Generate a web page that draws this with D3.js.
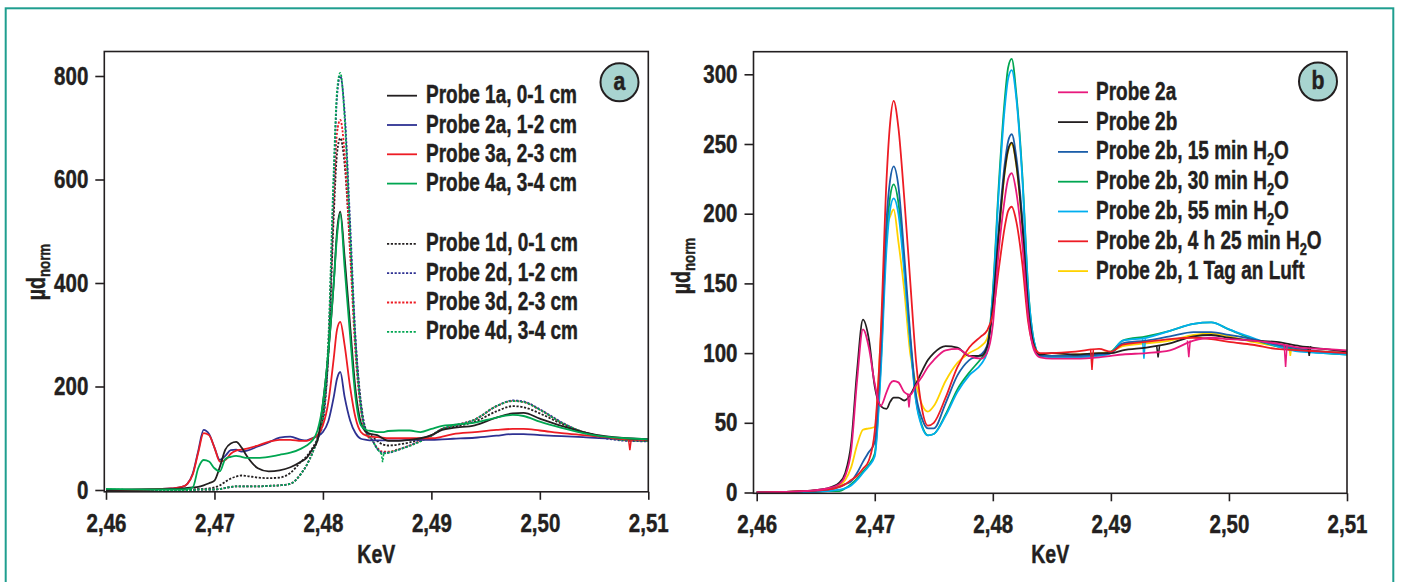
<!DOCTYPE html>
<html>
<head>
<meta charset="utf-8">
<script src="https://cdn.jsdelivr.net/npm/d3@7"></script>
<style>
  body { margin: 0; background: #fff; }
  svg { display: block; }
  text { font-family: 'Liberation Sans', Arial, Helvetica, sans-serif; font-weight: bold; fill: #231f20; stroke: #231f20; stroke-width: 0.45px; }
</style>
</head>
<body>
<svg id="chart" width="1401" height="582"></svg>
<script>
/** shared tick labels */
const xTickValues = [2.46, 2.47, 2.48, 2.49, 2.50, 2.51];
const xTickLabels = ['2,46', '2,47', '2,48', '2,49', '2,50', '2,51'];
const yTicksA = [0, 200, 400, 600, 800];
const yTicksB = [0, 50, 100, 150, 200, 250, 300];

/** panel a: energy grid (keV) and the read-off values */
const energyA = [2.4600, 2.4640, 2.4660, 2.4670, 2.4675, 2.4680, 2.4685, 2.4690, 2.4695, 2.4700,
                 2.4705, 2.4710, 2.4715, 2.4720, 2.4725, 2.4730, 2.4740, 2.4750, 2.4760, 2.4770,
                 2.4780, 2.4785, 2.4790, 2.4795, 2.4800, 2.4805, 2.4810, 2.4813, 2.4816, 2.4820,
                 2.4825, 2.4830, 2.4835, 2.4840, 2.4845, 2.4850, 2.4855, 2.4860, 2.4870, 2.4880,
                 2.4890, 2.4900, 2.4910, 2.4920, 2.4940, 2.4960, 2.4975, 2.4985, 2.5000, 2.5020,
                 2.5040, 2.5060, 2.5080, 2.5100];

const probe1a = [0, 1, 2, 3, 4, 5, 6, 9, 13, 18,
                 45, 78, 90, 93, 82, 65, 42, 36, 38, 44,
                 55, 62, 78, 95, 168, 265, 400, 500, 538, 450,
                 320, 195, 130, 112, 108, 106, 100, 95, 95, 97,
                 100, 106, 116, 120, 125, 140, 148, 149, 138, 124,
                 112, 104, 100, 98];
const probe2a = [0, 1, 3, 6, 12, 32, 75, 116, 108, 82,
                 58, 66, 77, 78, 74, 76, 84, 92, 101, 103,
                 97, 96, 100, 104, 112, 133, 180, 215, 228, 180,
                 135, 110, 99, 97, 96, 96, 96, 96, 96, 97,
                 97, 97, 98, 99, 101, 105, 108, 108, 106, 104,
                 102, 100, 99, 98];
const probe3a = [0, 1, 3, 6, 12, 30, 72, 110, 106, 82,
                 55, 58, 70, 76, 78, 80, 86, 93, 97, 97,
                 95, 95, 99, 106, 125, 170, 255, 310, 325, 280,
                 200, 140, 112, 105, 103, 102, 101, 100, 100, 100,
                 100, 100, 103, 108, 112, 116, 118, 118, 115, 110,
                 106, 102, 98, 97];
const probe4a = [2, 1, 1, 1, 2, 5, 42, 58, 55, 42,
                 36, 60, 64, 66, 64, 62, 62, 64, 68, 72,
                 80, 86, 95, 115, 168, 267, 400, 490, 534, 430,
                 300, 180, 125, 116, 114, 112, 112, 114, 115, 115,
                 112, 118, 124, 126, 130, 140, 145, 143, 132, 120,
                 110, 103, 100, 98];
const probe1d = [0, 0, 1, 1, 1, 1, 2, 2, 3, 5,
                 9, 16, 22, 26, 28, 27, 24, 23, 24, 33,
                 55, 65, 80, 100, 140, 260, 530, 650, 680, 630,
                 470, 290, 170, 115, 104, 95, 88, 86, 88, 92,
                 98, 106, 118, 122, 132, 152, 162, 160, 148, 128,
                 112, 103, 97, 95];
const probe2d = [0, 0, 0, 0, 0, 0, 1, 1, 1, 1,
                 2, 4, 6, 7, 7, 7, 7, 8, 9, 12,
                 32, 48, 70, 98, 130, 270, 600, 760, 800, 730,
                 520, 295, 165, 112, 98, 80, 72, 72, 78, 86,
                 95, 105, 118, 124, 136, 162, 173, 171, 156, 131,
                 111, 100, 95, 94];
const probe3d = [0, 0, 0, 0, 0, 0, 1, 1, 1, 1,
                 2, 4, 6, 7, 7, 7, 7, 8, 9, 12,
                 32, 48, 70, 98, 135, 270, 560, 690, 715, 650,
                 460, 265, 155, 108, 97, 82, 74, 74, 79, 86,
                 95, 105, 118, 124, 136, 162, 172, 170, 155, 130,
                 112, 102, 96, 95];
const probe4d = [1, 0, 0, 0, 0, 0, 1, 1, 1, 1,
                 2, 4, 6, 7, 7, 7, 7, 8, 9, 12,
                 32, 48, 70, 98, 140, 290, 620, 770, 806, 720,
                 500, 280, 160, 110, 98, 80, 70, 72, 78, 85,
                 94, 105, 118, 124, 136, 162, 172, 170, 155, 130,
                 112, 102, 96, 95];
/** single-point glitches: [energy, level next to it, level at the tip] */
const spikes3a = [[2.5083, 97, 77]];
const spikes4d = [[2.4855, 72, 54]];

/** panel b */
const energyB = [2.4600, 2.4640, 2.4660, 2.4670, 2.4675, 2.4680, 2.4685, 2.4690, 2.4695, 2.4700,
                 2.4705, 2.4710, 2.4713, 2.4716, 2.4720, 2.4725, 2.4730, 2.4735, 2.4740, 2.4745,
                 2.4750, 2.4760, 2.4770, 2.4780, 2.4790, 2.4795, 2.4800, 2.4805, 2.4810, 2.4813,
                 2.4816, 2.4820, 2.4825, 2.4830, 2.4835, 2.4840, 2.4850, 2.4870, 2.4890, 2.4900,
                 2.4910, 2.4930, 2.4950, 2.4970, 2.4985, 2.5000, 2.5020, 2.5040, 2.5060, 2.5080,
                 2.5100];

const sample2a = [0, 1, 3, 6, 12, 30, 80, 117, 104, 78,
                  62, 72, 78, 80, 79, 72, 70, 77, 83, 90,
                  95, 102, 103, 98, 96, 100, 120, 173, 210, 225,
                  229, 215, 178, 126, 102, 97, 96, 96, 97, 98,
                  99, 100, 102, 109, 111, 110, 109, 107, 104, 103,
                  102];
const sample2b = [0, 1, 3, 7, 14, 35, 87, 124, 110, 76,
                  62, 60, 65, 68, 68, 66, 70, 78, 87, 95,
                  100, 105, 104, 98, 98, 104, 133, 185, 230, 246,
                  251, 235, 192, 132, 105, 99, 100, 99, 100, 100,
                  102, 104, 107, 112, 113, 111, 109, 108, 105, 103,
                  101];
const water15 = [0, 1, 2, 4, 6, 8, 14, 22, 29, 36,
                 100, 196, 224, 234, 220, 170, 114, 70, 53, 46,
                 46, 64, 84, 95, 99, 105, 135, 189, 235, 252,
                 257, 240, 196, 134, 105, 98, 98, 98, 99, 100,
                 107, 109, 112, 115, 115, 113, 110, 106, 103, 101,
                 100];
const water30 = [0, 0, 1, 1, 3, 6, 10, 15, 20, 28,
                 90, 185, 212, 221, 208, 162, 110, 66, 48, 41,
                 42, 56, 74, 86, 96, 102, 144, 220, 281, 305,
                 311, 285, 228, 146, 108, 98, 98, 98, 99, 101,
                 109, 112, 116, 121, 122, 117, 110, 105, 102, 100,
                 99];
const water55 = [0, 0, 1, 2, 3, 5, 9, 14, 19, 26,
                 85, 175, 203, 211, 200, 158, 108, 65, 47, 41,
                 42, 55, 72, 84, 92, 100, 142, 215, 275, 297,
                 303, 282, 225, 145, 108, 98, 97, 97, 98, 100,
                 109, 111, 116, 121, 122, 117, 111, 105, 101, 100,
                 99];
const water4h25 = [0, 1, 2, 4, 6, 9, 12, 17, 23, 44,
                   112, 225, 265, 281, 262, 211, 152, 94, 60, 48,
                   50, 68, 90, 104, 112, 116, 128, 160, 190, 202,
                   205, 194, 164, 122, 104, 100, 100, 101, 103, 101,
                   106, 108, 110, 111, 110, 108, 106, 103, 102, 101,
                   100];
const air1day = [0, 1, 2, 5, 9, 18, 34, 45, 46, 47,
                 110, 189, 198, 203, 180, 145, 100, 78, 63, 58,
                 62, 80, 93, 100, 105, 110, 132, 183, 229, 245,
                 250, 234, 190, 130, 104, 99, 98, 99, 100, 101,
                 105, 107, 109, 113, 114, 112, 108, 105, 102, 101,
                 100];
const spikes2a = [[2.4729, 71, 61], [2.4966, 109, 97], [2.5048, 106, 90]];
const spikes2b = [[2.4940, 105, 97], [2.5068, 105, 98]];
const spikes55 = [[2.4928, 110, 96]];
const spikes4h25 = [[2.4884, 103, 88]];
const spikes1day = [[2.5052, 105, 98]];

/** series lists (drawing order = back to front) */
const seriesA = [
  { label: 'Probe 1d, 0-1 cm', values: probe1d, spikes: [] },
  { label: 'Probe 3d, 2-3 cm', values: probe3d, spikes: [] },
  { label: 'Probe 2d, 1-2 cm', values: probe2d, spikes: [] },
  { label: 'Probe 4d, 3-4 cm', values: probe4d, spikes: spikes4d },
  { label: 'Probe 2a, 1-2 cm', values: probe2a, spikes: [] },
  { label: 'Probe 3a, 2-3 cm', values: probe3a, spikes: spikes3a },
  { label: 'Probe 1a, 0-1 cm', values: probe1a, spikes: [] },
  { label: 'Probe 4a, 3-4 cm', values: probe4a, spikes: [] }
];
const legendOrderA = ['Probe 1a, 0-1 cm', 'Probe 2a, 1-2 cm', 'Probe 3a, 2-3 cm', 'Probe 4a, 3-4 cm',
                      'Probe 1d, 0-1 cm', 'Probe 2d, 1-2 cm', 'Probe 3d, 2-3 cm', 'Probe 4d, 3-4 cm'];

const seriesB = [
  { label: 'Probe 2b, 1 Tag an Luft', values: air1day, spikes: spikes1day },
  { label: 'Probe 2b, 30 min H2O', values: water30, spikes: [] },
  { label: 'Probe 2b, 55 min H2O', values: water55, spikes: spikes55 },
  { label: 'Probe 2b, 15 min H2O', values: water15, spikes: [] },
  { label: 'Probe 2b', values: sample2b, spikes: spikes2b },
  { label: 'Probe 2b, 4 h 25 min H2O', values: water4h25, spikes: spikes4h25 },
  { label: 'Probe 2a', values: sample2a, spikes: spikes2a }
];
const legendOrderB = ['Probe 2a', 'Probe 2b', 'Probe 2b, 15 min H2O', 'Probe 2b, 30 min H2O',
                      'Probe 2b, 55 min H2O', 'Probe 2b, 4 h 25 min H2O', 'Probe 2b, 1 Tag an Luft'];

/** styles */
const colorA = {
  'Probe 1a, 0-1 cm': '#231f20', 'Probe 2a, 1-2 cm': '#2e3192', 'Probe 3a, 2-3 cm': '#ed1c24', 'Probe 4a, 3-4 cm': '#00a651',
  'Probe 1d, 0-1 cm': '#231f20', 'Probe 2d, 1-2 cm': '#2e3192', 'Probe 3d, 2-3 cm': '#ed1c24', 'Probe 4d, 3-4 cm': '#00a651'
};
const colorB = {
  'Probe 2a': '#e8197d', 'Probe 2b': '#231f20', 'Probe 2b, 15 min H2O': '#1b5ea9', 'Probe 2b, 30 min H2O': '#00a651',
  'Probe 2b, 55 min H2O': '#00aeef', 'Probe 2b, 4 h 25 min H2O': '#ed1c24', 'Probe 2b, 1 Tag an Luft': '#ffd200'
};
const isDotted = label => / \dd,/.test(label);

/** the original type is a condensed grotesque: squeeze Liberation Sans sideways */
const SQUEEZE = 0.78;

let svg = d3.select('#chart');

/** teal frame round the whole figure */
svg.append('rect')
   .attr('x', 5.7).attr('y', 8.3)
   .attr('width', 1387.6).attr('height', 620)
   .attr('fill', 'none')
   .attr('stroke', '#1f9e8f')
   .attr('stroke-width', 2);

/** narrow a text horizontally about its own anchor x */
function squeeze(sel, s) {
  sel.each(function () {
    let t = d3.select(this);
    let x = +t.attr('x') || 0;
    t.attr('transform', `translate(${x},0) scale(${s},1) translate(${-x},0)`);
  });
}

/** label text with an optional H2O subscript */
function addLabel(sel, label) {
  let parts = label.split('H2O');
  sel.append('tspan').text(parts[0]);
  if (parts.length > 1) {
    sel.append('tspan').text('H');
    sel.append('tspan').attr('font-size', 17).attr('dy', 6).text('2');
    sel.append('tspan').attr('dy', -6).text('O');
  }
}

function drawPanel(p) {
  let g = svg.append('g');
  let x = d3.scaleLinear().domain([2.46, 2.51]).range(p.xRange);
  let y = d3.scaleLinear().domain([0, p.yMax]).range(p.yRange);

  let clipId = 'clip-' + p.badge;
  svg.append('clipPath').attr('id', clipId)
     .append('rect')
     .attr('x', p.frame.left).attr('y', p.frame.top)
     .attr('width', p.frame.right - p.frame.left)
     .attr('height', p.frame.bottom - p.frame.top);

  /** curves */
  let line = d3.line()
      .x((d, i) => x(p.energy[i]))
      .y(d => y(d))
      .curve(d3.curveMonotoneX);

  let curves = g.append('g').attr('clip-path', `url(#${clipId})`);
  p.series.forEach(s => {
    let dotted = isDotted(s.label);
    curves.append('path')
        .attr('d', line(s.values))
        .attr('fill', 'none')
        .attr('stroke', p.colors[s.label])
        .attr('stroke-width', 1.8)
        .attr('stroke-dasharray', dotted ? '2.2,1.6' : null);
    s.spikes.forEach(k => {
      curves.append('path')
          .attr('d', d3.line()([[x(k[0] - 0.00012), y(k[1])], [x(k[0]), y(k[2])], [x(k[0] + 0.00012), y(k[1])]]))
          .attr('fill', 'none')
          .attr('stroke', p.colors[s.label])
          .attr('stroke-width', 1.5)
          .attr('stroke-dasharray', dotted ? '2.2,1.6' : null);
    });
  });

  /** frame */
  g.append('rect')
   .attr('x', p.frame.left).attr('y', p.frame.top)
   .attr('width', p.frame.right - p.frame.left)
   .attr('height', p.frame.bottom - p.frame.top)
   .attr('fill', 'none')
   .attr('stroke', '#231f20')
   .attr('stroke-width', 1.6);

  /** axes */
  let yAxis = d3.axisLeft(y).tickValues(p.yTicks).tickSize(9).tickPadding(7).tickFormat(d3.format('d'));
  let xAxis = d3.axisBottom(x).tickValues(xTickValues).tickSize(8).tickPadding(14)
                .tickFormat((d, i) => xTickLabels[i]);

  let ya = g.append('g').attr('transform', `translate(${p.frame.left},0)`).call(yAxis);
  let xa = g.append('g').attr('transform', `translate(0,${p.frame.bottom})`).call(xAxis);
  [ya, xa].forEach(a => {
    a.attr('font-family', null).attr('font-size', null);
    a.select('.domain').remove();
    a.selectAll('line').attr('stroke', '#231f20').attr('stroke-width', 1.6);
    a.selectAll('text').attr('font-size', 25).attr('fill', '#231f20').call(squeeze, 0.82);
  });

  /** axis titles */
  g.append('text')
   .attr('x', (p.frame.left + p.frame.right) / 2)
   .attr('y', 563)
   .attr('text-anchor', 'middle')
   .attr('font-size', 25)
   .text('KeV')
   .call(squeeze, SQUEEZE);

  let yt = g.append('text')
   .attr('transform', `translate(${p.yTitle[0]},${p.yTitle[1]}) rotate(-90) scale(${SQUEEZE},1)`)
   .attr('text-anchor', 'middle')
   .attr('font-size', 25);
  yt.append('tspan').text('\u00b5d');
  yt.append('tspan').attr('font-size', 17).attr('dy', 5).text('norm');

  /** legend */
  let lg = g.append('g');
  p.legendOrder.forEach((label, i) => {
    let ly = p.legend.y0 + i * p.legend.step + (p.legend.gapAt !== undefined && i >= p.legend.gapAt ? p.legend.gap : 0);
    lg.append('line')
      .attr('x1', p.legend.x1).attr('x2', p.legend.x2)
      .attr('y1', ly).attr('y2', ly)
      .attr('stroke', p.colors[label])
      .attr('stroke-width', 1.8)
      .attr('stroke-dasharray', isDotted(label) ? '2.2,1.6' : null);
    let t = lg.append('text')
      .attr('transform', `translate(${p.legend.tx},${ly + 7.5}) scale(${SQUEEZE - 0.02},1)`)
      .attr('font-size', 25);
    addLabel(t, label);
  });

  /** badge */
  g.append('circle')
   .attr('cx', p.badgeAt[0]).attr('cy', p.badgeAt[1]).attr('r', 19)
   .attr('fill', '#a8d4d0')
   .attr('stroke', '#231f20')
   .attr('stroke-width', 2);
  g.append('text')
   .attr('x', p.badgeAt[0]).attr('y', p.badgeAt[1] + 8)
   .attr('text-anchor', 'middle')
   .attr('font-size', 25)
   .text(p.badge)
   .call(squeeze, 0.85);
}

drawPanel({
  badge: 'a', badgeAt: [619.5, 82.3],
  frame: { left: 104.3, top: 51.5, right: 648.3, bottom: 491.8 },
  xRange: [106, 648.3], yMax: 800, yRange: [490, 76], yTicks: yTicksA,
  energy: energyA, series: seriesA, colors: colorA, legendOrder: legendOrderA,
  legend: { x1: 387, x2: 417, tx: 426, y0: 95.7, step: 29.3, gapAt: 4, gap: 31 },
  yTitle: [45, 272]
});

drawPanel({
  badge: 'b', badgeAt: [1318, 81.5],
  frame: { left: 753.5, top: 51.7, right: 1347, bottom: 493.3 },
  xRange: [756.7, 1347], yMax: 300, yRange: [492.5, 74.3], yTicks: yTicksB,
  energy: energyB, series: seriesB, colors: colorB, legendOrder: legendOrderB,
  legend: { x1: 1058, x2: 1088, tx: 1096, y0: 92.3, step: 29.8 },
  yTitle: [690, 266]
});
</script>
</body>
</html>
